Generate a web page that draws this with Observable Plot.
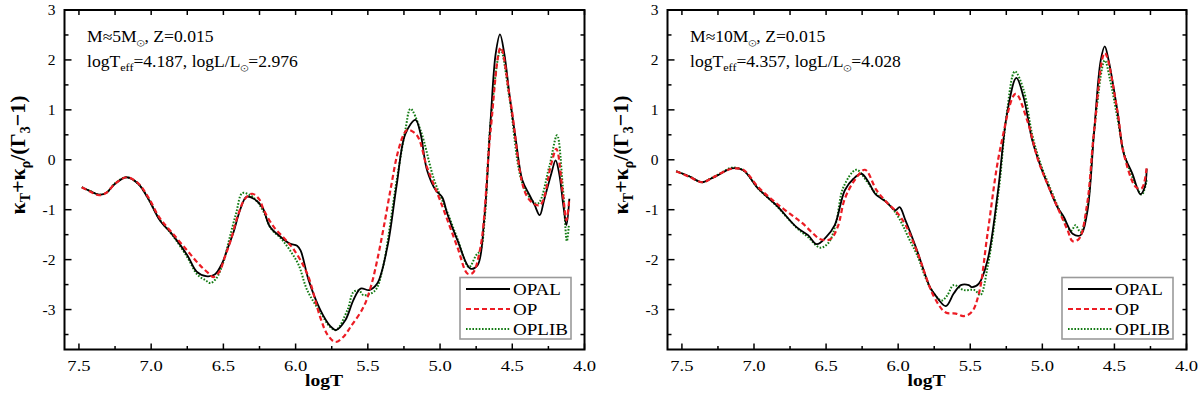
<!DOCTYPE html>
<html><head><meta charset="utf-8">
<script src="https://cdn.jsdelivr.net/npm/d3@7"></script>
<script src="https://cdn.jsdelivr.net/npm/@observablehq/plot@0.6"></script>
<style>
body{margin:0;background:#fff;}
#wrap{display:flex;width:1200px;height:393px;overflow:hidden;}
svg text, svg tspan { font-family: "Liberation Serif", "Times New Roman", Tinos, "Nimbus Roman", "Noto Serif", FreeSerif, "DejaVu Serif", serif !important; }
</style></head><body><div id="wrap"></div>
<script>
// ---- axis ticks ----
const xMajorTicks = [7.5, 7.0, 6.5, 6.0, 5.5, 5.0, 4.5, 4.0];
const xMinorTicks = [7.25, 6.75, 6.25, 5.75, 5.25, 4.75, 4.25];
const yMajorTicks = [-3, -2, -1, 0, 1, 2, 3];
const yMinorTicks = [-3.5, -2.5, -1.5, -0.5, 0.5, 1.5, 2.5];
const seriesNames = ["OPAL", "OP", "OPLIB"];

// ---- left panel: M≈5 Msun ----
const left_OPAL = [[7.48,-0.55],[7.42,-0.63],[7.36,-0.70],[7.31,-0.66],[7.25,-0.48],[7.17,-0.35],[7.09,-0.48],[7.02,-0.78],[6.94,-1.21],[6.85,-1.51],[6.75,-1.91],[6.685,-2.24],[6.62,-2.33],[6.56,-2.30],[6.51,-2.08],[6.475,-1.81],[6.43,-1.45],[6.385,-1.01],[6.34,-0.74],[6.29,-0.78],[6.23,-0.95],[6.18,-1.33],[6.11,-1.53],[6.04,-1.68],[5.99,-1.72],[5.965,-1.82],[5.91,-2.41],[5.83,-3.0],[5.76,-3.33],[5.72,-3.41],[5.655,-3.21],[5.60,-2.81],[5.55,-2.58],[5.49,-2.61],[5.435,-2.48],[5.365,-1.75],[5.30,-0.50],[5.24,0.52],[5.17,0.80],[5.135,0.52],[5.09,-0.21],[5.03,-0.61],[4.985,-0.75],[4.95,-1.08],[4.88,-1.61],[4.79,-2.18],[4.74,-2.11],[4.695,-1.21],[4.65,0.79],[4.615,2.12],[4.585,2.51],[4.555,2.12],[4.52,1.32],[4.475,0.39],[4.43,-0.41],[4.38,-0.71],[4.345,-0.91],[4.31,-1.11],[4.28,-0.81],[4.23,-0.28],[4.20,-0.01],[4.175,-0.28],[4.145,-0.95],[4.125,-1.31],[4.105,-0.78]];
const left_OP = [[7.48,-0.55],[7.42,-0.64],[7.36,-0.71],[7.31,-0.66],[7.25,-0.48],[7.17,-0.35],[7.09,-0.47],[7.02,-0.75],[6.94,-1.17],[6.85,-1.48],[6.75,-1.82],[6.66,-2.12],[6.60,-2.28],[6.57,-2.35],[6.53,-2.25],[6.49,-1.95],[6.45,-1.62],[6.40,-1.12],[6.35,-0.78],[6.30,-0.68],[6.25,-0.80],[6.22,-1.01],[6.15,-1.35],[6.07,-1.60],[6.01,-1.81],[5.92,-2.28],[5.83,-3.15],[5.78,-3.50],[5.725,-3.65],[5.67,-3.55],[5.62,-3.35],[5.53,-2.95],[5.48,-2.55],[5.435,-2.01],[5.39,-1.35],[5.34,-0.55],[5.295,0.12],[5.25,0.52],[5.225,0.60],[5.16,0.49],[5.09,-0.15],[5.0,-0.81],[4.88,-1.75],[4.81,-2.28],[4.775,-2.27],[4.72,-1.75],[4.65,0.59],[4.58,2.25],[4.51,1.12],[4.395,-0.75],[4.31,-0.91],[4.23,-0.08],[4.195,0.22],[4.15,-0.68],[4.125,-1.21],[4.105,-0.78]];
const left_OPLIB = [[7.48,-0.55],[7.42,-0.63],[7.36,-0.70],[7.31,-0.66],[7.25,-0.47],[7.17,-0.35],[7.09,-0.48],[7.02,-0.78],[6.94,-1.20],[6.85,-1.52],[6.75,-1.95],[6.68,-2.30],[6.62,-2.42],[6.59,-2.47],[6.55,-2.38],[6.50,-2.05],[6.46,-1.60],[6.41,-1.05],[6.37,-0.67],[6.32,-0.70],[6.27,-0.82],[6.22,-1.05],[6.17,-1.38],[6.10,-1.58],[6.04,-1.81],[5.98,-2.10],[5.92,-2.61],[5.83,-3.05],[5.76,-3.35],[5.72,-3.41],[5.64,-3.0],[5.60,-2.65],[5.56,-2.62],[5.53,-2.71],[5.45,-2.62],[5.40,-2.21],[5.30,-0.41],[5.24,0.60],[5.205,1.02],[5.135,0.59],[5.04,-0.41],[4.95,-1.05],[4.88,-1.58],[4.80,-2.15],[4.75,-1.91],[4.72,-1.81],[4.69,-1.15],[4.65,0.75],[4.58,2.20],[4.52,1.25],[4.42,-0.55],[4.325,-0.88],[4.245,-0.15],[4.19,0.49],[4.15,-0.55],[4.122,-1.63],[4.108,-1.30]];

// ---- right panel: M≈10 Msun ----
const right_OPAL = [[7.54,-0.23],[7.45,-0.33],[7.36,-0.45],[7.30,-0.38],[7.25,-0.31],[7.155,-0.17],[7.075,-0.21],[6.97,-0.58],[6.845,-0.91],[6.705,-1.35],[6.625,-1.51],[6.565,-1.69],[6.50,-1.55],[6.44,-1.31],[6.37,-0.61],[6.31,-0.38],[6.255,-0.28],[6.205,-0.45],[6.16,-0.68],[6.08,-0.85],[6.02,-1.01],[5.99,-0.95],[5.95,-1.21],[5.87,-1.81],[5.78,-2.55],[5.75,-2.68],[5.67,-2.93],[5.615,-2.68],[5.565,-2.51],[5.51,-2.51],[5.49,-2.55],[5.44,-2.48],[5.38,-2.01],[5.31,-0.68],[5.245,0.92],[5.18,1.64],[5.13,1.25],[5.07,0.39],[5.01,-0.15],[4.955,-0.55],[4.895,-0.95],[4.85,-1.15],[4.825,-1.31],[4.79,-1.48],[4.735,-1.51],[4.69,-1.08],[4.64,0.59],[4.595,1.99],[4.567,2.27],[4.54,1.99],[4.48,0.99],[4.435,0.12],[4.375,-0.28],[4.32,-0.69],[4.29,-0.55],[4.276,-0.18]];
const right_OP = [[7.54,-0.23],[7.45,-0.34],[7.36,-0.45],[7.30,-0.38],[7.25,-0.30],[7.155,-0.18],[7.075,-0.20],[6.97,-0.55],[6.845,-0.87],[6.705,-1.18],[6.66,-1.28],[6.60,-1.45],[6.54,-1.59],[6.47,-1.59],[6.42,-1.35],[6.37,-0.78],[6.30,-0.40],[6.23,-0.20],[6.15,-0.61],[6.08,-0.85],[6.01,-1.05],[5.95,-1.30],[5.87,-1.83],[5.75,-2.75],[5.67,-3.06],[5.60,-3.08],[5.545,-3.13],[5.49,-3.05],[5.44,-2.68],[5.38,-1.48],[5.29,0.25],[5.185,1.32],[5.105,0.79],[5.03,0.0],[4.955,-0.55],[4.825,-1.41],[4.79,-1.63],[4.745,-1.58],[4.69,-0.90],[4.64,0.60],[4.567,2.14],[4.48,0.99],[4.435,0.12],[4.35,-0.55],[4.31,-0.57],[4.276,-0.15]];
const right_OPLIB = [[7.54,-0.23],[7.45,-0.33],[7.36,-0.45],[7.30,-0.37],[7.25,-0.30],[7.155,-0.16],[7.075,-0.21],[6.97,-0.58],[6.845,-0.92],[6.705,-1.36],[6.625,-1.55],[6.54,-1.76],[6.48,-1.65],[6.43,-1.25],[6.38,-0.55],[6.29,-0.20],[6.22,-0.42],[6.16,-0.66],[6.08,-0.85],[6.02,-1.05],[5.97,-1.30],[5.93,-1.55],[5.87,-1.90],[5.78,-2.55],[5.70,-2.82],[5.66,-2.72],[5.615,-2.51],[5.545,-2.61],[5.47,-2.61],[5.43,-2.71],[5.38,-2.15],[5.30,-0.55],[5.25,0.85],[5.19,1.77],[5.13,1.40],[5.07,0.50],[5.01,-0.10],[4.955,-0.50],[4.85,-1.20],[4.80,-1.42],[4.77,-1.31],[4.735,-1.45],[4.69,-1.0],[4.64,0.60],[4.567,1.99],[4.53,1.60],[4.48,0.85],[4.43,0.10],[4.36,-0.45],[4.31,-0.70],[4.276,-0.41]];

const leftInfo = {mass: "5", teff: "4.187", lum: "2.976"};
const rightInfo = {mass: "10", teff: "4.357", lum: "4.028"};

const colors = {OPAL: "#000000", OP: "#ec1c24", OPLIB: "#127a12"};
const dashes = {OPAL: null, OP: "5,3", OPLIB: "1.6,1.6"};
const widths = {OPAL: 1.8, OP: 2.2, OPLIB: 2};
const FONT = "Liberation Serif, Times New Roman, serif";

const tickShape = (dx, dy) => ({draw(ctx, l) { ctx.moveTo(0, 0); ctx.lineTo(dx * l, dy * l); }});

function ticks(values, axis, side, len) {
  const shape = side === "bottom" ? tickShape(0, -1) : side === "top" ? tickShape(0, 1)
    : side === "left" ? tickShape(1, 0) : tickShape(-1, 0);
  const o = {frameAnchor: side, length: len, shape, anchor: "start", stroke: "black", strokeWidth: 1.5, strokeLinecap: "butt"};
  if (axis === "x") o.x = d => d; else o.y = d => d;
  return Plot.vector(values, o);
}

function panel(series, info, marginLeft, marginRight) {
  const W = 600, H = 393, mt = 9.5, mb = 44;
  const lineMarks = ["OPLIB", "OPAL", "OP"].map(k => Plot.line(series[k], {
    x: d => d[0], y: d => d[1], curve: "catmull-rom",
    stroke: colors[k], strokeWidth: widths[k], strokeDasharray: dashes[k], strokeLinecap: "butt"
  }));
  const svg = Plot.plot({
    width: W, height: H, marginLeft, marginRight, marginTop: mt, marginBottom: mb,
    style: {fontFamily: FONT, fontSize: "15px", background: "white", color: "black", overflow: "visible"},
    x: {domain: [7.6, 4.0]},
    y: {domain: [-3.8, 3]},
    marks: [
      ...lineMarks,
      Plot.frame({stroke: "black", strokeWidth: 2}),
      ticks(xMajorTicks, "x", "bottom", 6), ticks(xMinorTicks, "x", "bottom", 3.5),
      ticks(xMajorTicks, "x", "top", 5), ticks(xMinorTicks, "x", "top", 5),
      ticks(yMajorTicks, "y", "left", 7), ticks(yMinorTicks, "y", "left", 4),
      ticks(yMajorTicks, "y", "right", 4), ticks(yMinorTicks, "y", "right", 4),
      Plot.axisX(xMajorTicks, {anchor: "bottom", tickSize: 0, tickPadding: 10, tickFormat: d => d.toFixed(1), fontSize: 15.5}),
      Plot.axisY(yMajorTicks, {anchor: "left", tickSize: 0, tickPadding: 9, tickFormat: d => String(d), fontSize: 15.5})
    ]
  });
  const s = d3.select(svg);
  s.selectAll("g[aria-label='x-axis tick label'] text").each(function() {
    const t = this.getAttribute("transform") || "";
    this.setAttribute("transform", t + " scale(1.2,1)");
  });
  const fl = marginLeft, fr = W - marginRight, fb = H - mb;
  // annotation
  const a = s.append("g").attr("font-family", FONT).attr("font-size", 16).attr("fill", "black").attr("text-anchor", "start");
  const t1 = a.append("text").attr("transform", `translate(${fl + 23},41.5) scale(1.1,1)`).attr("text-anchor", "start");
  t1.append("tspan").text("M≈" + info.mass + "M");
  t1.append("tspan").attr("dy", 4).attr("font-size", 11).text("⊙");
  t1.append("tspan").attr("dy", -4).text(", Z=0.015");
  const t2 = a.append("text").attr("transform", `translate(${fl + 23},66.5) scale(1.1,1)`).attr("text-anchor", "start");
  t2.append("tspan").text("logT");
  t2.append("tspan").attr("dy", 4).attr("font-size", 11).text("eff");
  t2.append("tspan").attr("dy", -4).text("=" + info.teff + ", logL/L");
  t2.append("tspan").attr("dy", 4).attr("font-size", 11).text("⊙");
  t2.append("tspan").attr("dy", -4).text("=" + info.lum);
  // axis titles
  s.append("text").attr("transform", `translate(${(fl + fr) / 2},385.5) scale(1.15,1)`).attr("text-anchor", "middle")
    .attr("font-family", FONT).attr("font-weight", "bold").attr("font-size", 17).text("logT");
  const yt = s.append("text").attr("transform", `translate(${fl - 39},${155}) rotate(-90)`)
    .attr("text-anchor", "middle").attr("font-family", FONT).attr("font-weight", "bold").attr("font-size", 22);
  yt.append("tspan").text("κ");
  yt.append("tspan").attr("dy", 5).attr("font-size", 14).text("T");
  yt.append("tspan").attr("dy", -5).text("+κ");
  yt.append("tspan").attr("dy", 5).attr("font-size", 14).text("ρ");
  yt.append("tspan").attr("dy", -5).text("/(Γ");
  yt.append("tspan").attr("dy", 5).attr("font-size", 14).text("3");
  yt.append("tspan").attr("dy", -5).text("−1)");
  // legend
  const bx1 = fr - 13, bx0 = bx1 - 111, by1 = fb - 10, by0 = by1 - 61.5;
  const lg = s.append("g");
  lg.append("rect").attr("x", bx0).attr("y", by0).attr("width", bx1 - bx0).attr("height", by1 - by0)
    .attr("fill", "white").attr("stroke", "#9a9a9a").attr("stroke-width", 1.6);
  seriesNames.forEach((k, i) => {
    const yy = by0 + 11.5 + i * 20;
    lg.append("line").attr("x1", bx0 + 6).attr("x2", bx0 + 50).attr("y1", yy).attr("y2", yy)
      .attr("stroke", colors[k]).attr("stroke-width", widths[k]).attr("stroke-dasharray", dashes[k]);
    lg.append("text").attr("transform", `translate(${bx0 + 53},${yy + 6}) scale(1.12,1)`).attr("text-anchor", "start")
      .attr("font-family", FONT).attr("font-size", 17).text(k);
  });
  return svg;
}

const wrap = document.getElementById("wrap");
wrap.appendChild(panel({OPAL: left_OPAL, OP: left_OP, OPLIB: left_OPLIB}, leftInfo, 64, 16));
wrap.appendChild(panel({OPAL: right_OPAL, OP: right_OP, OPLIB: right_OPLIB}, rightInfo, 67, 14));
</script></body></html>
